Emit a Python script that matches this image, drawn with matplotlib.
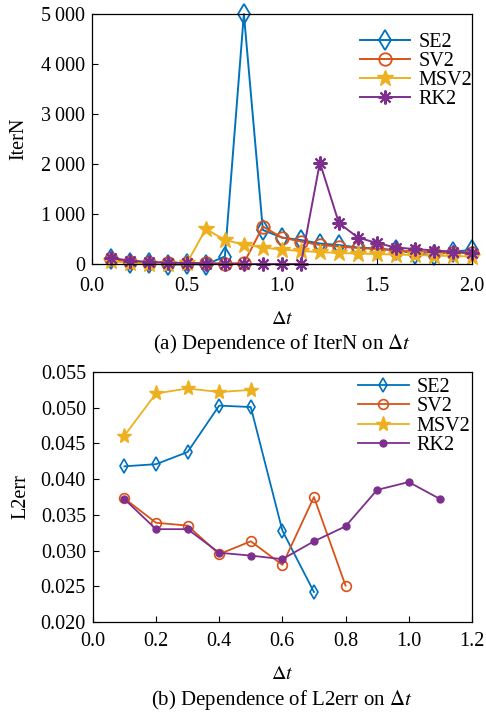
import matplotlib
matplotlib.use("Agg")
import matplotlib.pyplot as plt
from matplotlib.ticker import FuncFormatter

plt.rcParams['font.family'] = ['Liberation Serif', 'DejaVu Serif']
plt.rcParams['mathtext.fontset'] = 'stix'

# --- data: IterN vs dt ---
dt_a = [0.1, 0.2, 0.3, 0.4, 0.5, 0.6, 0.7, 0.8, 0.9, 1.0,
        1.1, 1.2, 1.3, 1.4, 1.5, 1.6, 1.7, 1.8, 1.9, 2.0]
iter_se2 = [100, 30, 30, -20, 0, -10, 150, 5000, 680, 530,
            480, 410, 380, 330, 310, 280, 210, 180, 250, 280]
iter_sv2 = [100, 50, 30, 20, 20, 20, 10, 20, 750, 530,
            450, 380, 350, 320, 300, 270, 250, 230, 220, 220]
iter_msv2 = [60, 20, 10, 10, 20, 700, 480, 390, 330, 290,
             260, 240, 220, 210, 200, 190, 180, 170, 160, 150]
iter_rk2 = [120, 70, 40, 30, 20, 10, 0, 0, 0, 0,
            0, 2030, 820, 530, 420, 330, 300, 270, 250, 220]

# --- data: L2err vs dt ---
dt_se2 = [0.1, 0.2, 0.3, 0.4, 0.5, 0.6, 0.7]
err_se2 = [0.0418, 0.0421, 0.0438, 0.0503, 0.0501, 0.0328, 0.0242]
dt_sv2 = [0.1, 0.2, 0.3, 0.4, 0.5, 0.6, 0.7, 0.8]
err_sv2 = [0.0373, 0.0339, 0.0335, 0.0295, 0.0313, 0.0280, 0.0375, 0.0251]
dt_msv2 = [0.1, 0.2, 0.3, 0.4, 0.5]
err_msv2 = [0.0461, 0.0520, 0.0527, 0.0522, 0.0525]
dt_rk2 = [0.1, 0.2, 0.3, 0.4, 0.5, 0.6, 0.7, 0.8, 0.9, 1.0, 1.1]
err_rk2 = [0.0372, 0.0330, 0.0330, 0.0297, 0.0293, 0.0288, 0.0313,
           0.0334, 0.0385, 0.0396, 0.0372]

blue, red, yellow, purple = '#0072BD', '#D95319', '#EDB120', '#7E2F8E'
asterisk = (8, 2, 0)
fs = 14.5

fig = plt.figure(figsize=(4.86, 7.13), dpi=100)
ax1 = fig.add_axes([0.189, 0.6297, 0.782, 0.3506])
ax2 = fig.add_axes([0.191, 0.1276, 0.780, 0.3506])

# Graph (a)
ax1.plot(dt_a, iter_se2, color=blue, marker='d', mfc='none', ms=10, mew=1.3, lw=1.4, label='SE2', clip_on=False)
ax1.plot(dt_a, iter_sv2, color=red, marker='o', mfc='none', ms=9, mew=1.3, lw=1.4, label='SV2', clip_on=False)
ax1.plot(dt_a, iter_msv2, color=yellow, marker='*', ms=12, lw=1.4, label='MSV2', clip_on=False)
ax1.plot(dt_a, iter_rk2, color=purple, marker=asterisk, ms=10, mew=1.5, lw=1.4, label='RK2', clip_on=False)
ax1.set_xlim(0, 2.0)
ax1.set_ylim(0, 5000)
ax1.set_xticks([0.0, 0.5, 1.0, 1.5, 2.0])
ax1.set_yticks([0, 1000, 2000, 3000, 4000, 5000])
ax1.yaxis.set_major_formatter(FuncFormatter(
    lambda v, p: f"{int(v):,}".replace(',', '\u2009') if v else "0"))
ax1.xaxis.set_major_formatter(FuncFormatter(lambda v, p: f"{v:.1f}"))
ax1.set_ylabel("IterN", fontsize=fs, labelpad=9)
ax1.set_xlabel(r"$\Delta t$", fontsize=fs, labelpad=10)
ax1.legend(loc='upper left', frameon=False, fontsize=fs, handlelength=2.5,
           labelspacing=0.0, handletextpad=0.4, borderaxespad=0, borderpad=0,
           bbox_to_anchor=(0.705, 0.925))
fig.text(0.58, 0.518, r"(a) Dependence of IterN on $\Delta t$", ha='center', va='center', fontsize=15)

# Graph (b)
ax2.plot(dt_se2, err_se2, color=blue, marker='d', mfc='none', ms=7, mew=1.2, lw=1.3, label='SE2')
ax2.plot(dt_sv2, err_sv2, color=red, marker='o', mfc='none', ms=7, mew=1.2, lw=1.3, label='SV2')
ax2.plot(dt_msv2, err_msv2, color=yellow, marker='*', ms=11, lw=1.3, label='MSV2')
ax2.plot(dt_rk2, err_rk2, color=purple, marker='o', ms=5, lw=1.3, label='RK2')
ax2.set_xlim(0, 1.2)
ax2.set_ylim(0.020, 0.055)
ax2.set_xticks([0.0, 0.2, 0.4, 0.6, 0.8, 1.0, 1.2])
ax2.set_yticks([0.020, 0.025, 0.030, 0.035, 0.040, 0.045, 0.050, 0.055])
ax2.yaxis.set_major_formatter(FuncFormatter(lambda v, p: f"{v:.3f}"))
ax2.xaxis.set_major_formatter(FuncFormatter(lambda v, p: f"{v:.1f}"))
ax2.set_ylabel("L2err", fontsize=fs, labelpad=7)
ax2.set_xlabel(r"$\Delta t$", fontsize=fs, labelpad=10)
ax2.legend(loc='upper left', frameon=False, fontsize=fs, handlelength=2.5,
           labelspacing=0.0, handletextpad=0.4, borderaxespad=0, borderpad=0,
           bbox_to_anchor=(0.70, 0.975))
fig.text(0.58, 0.0185, r"(b) Dependence of L2err on $\Delta t$", ha='center', va='center', fontsize=15)

for ax in (ax1, ax2):
    ax.tick_params(direction='in', labelsize=fs, length=4, pad=5, top=False, right=False)
    for s in ax.spines.values():
        s.set_linewidth(0.9)
ax1.tick_params(axis='x', pad=9.5)
ax2.tick_params(axis='x', pad=7)

fig.savefig("out.png", dpi=100)
